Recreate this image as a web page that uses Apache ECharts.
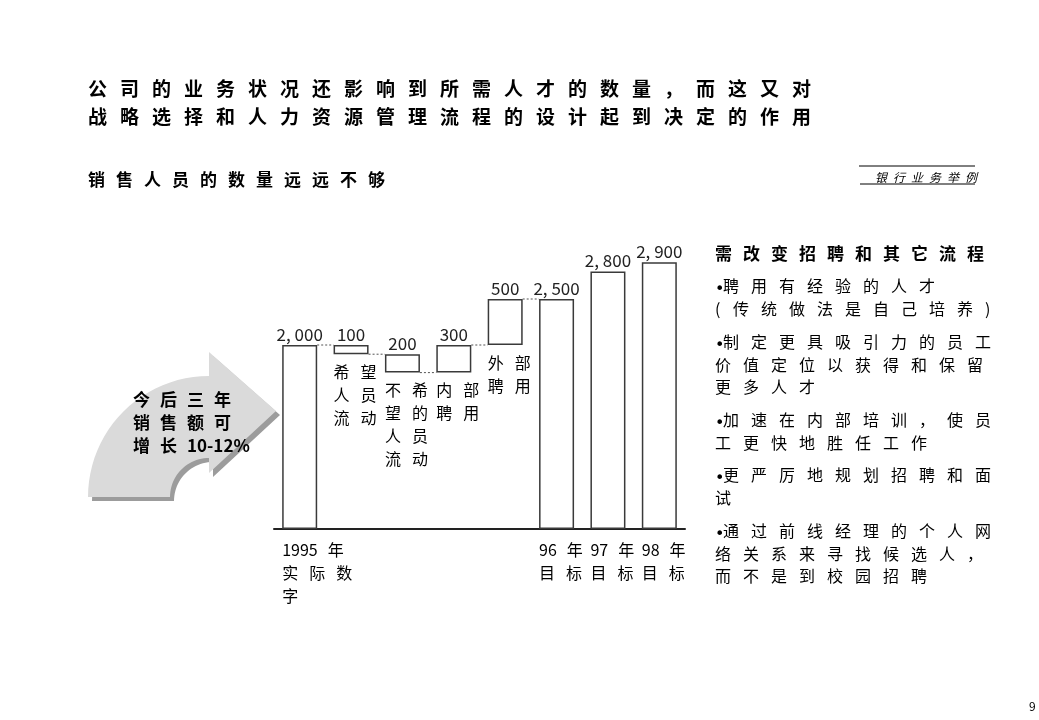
<!DOCTYPE html>
<html>
<head>
<meta charset="utf-8">
<title>销售人员的数量远远不够</title>
<script src="https://cdn.jsdelivr.net/npm/echarts@6/dist/echarts.min.js"></script>
<style>
  html, body { margin: 0; padding: 0; background: #fff; }
  #chart { width: 1039px; height: 720px; }
</style>
</head>
<body>
<div id="chart"></div>
<script>
// --- data ---
var categories = ['1995年实际数字', '希望人员流动', '不希望的人员流动', '内部聘用', '外部聘用', '96年目标', '97年目标', '98年目标'];
var categoryLabels = ['1995年\n实际数\n字', '希望\n人员\n流动', '不希\n望的\n人员\n流动', '内部\n聘用', '外部\n聘用', '96年\n目标', '97年\n目标', '98年\n目标'];
var values = [2000, 100, 200, 300, 500, 2500, 2800, 2900];
var bases = [0, 1900, 1700, 1700, 2000, 0, 0, 0];
var connectorLevels = [2000, 1900, 1700, 2000, 2500];   // dotted line from bar i to bar i+1

var headline = '公司的业务状况还影响到所需人才的数量，而这又对\n战略选择和人力资源管理流程的设计起到决定的作用';
var subhead = '销售人员的数量远远不够';
var tag = '银行业务举例';
var arrowText = '今后三年\n销售额可\n增长10-12%';
var panelHeading = '需改变招聘和其它流程';
var panelPoints = [
    '•聘用有经验的人才\n(传统做法是自己培养)',
    '•制定更具吸引力的员工\n价值定位以获得和保留\n更多人才',
    '•加速在内部培训，使员\n工更快地胜任工作',
    '•更严厉地规划招聘和面\n试',
    '•通过前线经理的个人网\n络关系来寻找候选人，\n而不是到校园招聘'
];
var pageNumber = '9';

// --- layout ---
var FONT = '"Noto Sans CJK SC", "Noto Sans", sans-serif';
var BAR_W = 35;
var pointTops = [275, 331, 409, 464, 520];

// wide character spacing like the original slide: one rich token per glyph
function spread(text) {
    return text.split('\n').map(function (line) {
        return (line.match(/[0-9A-Za-z%\-]+|./g) || []).map(function (t) {
            if (t === '•') return '{b|•}';
            if (t === '(') return '{p|(}';
            if (/^[0-9A-Za-z%\-]+$/.test(t)) return '{n|' + t + '}';
            return '{c|' + t + '}';
        }).join('');
    }).join('\n');
}

function richSet(size, step, weight, lh, style) {
    var base = { fontSize: size, fontWeight: weight, fontFamily: FONT, color: '#000', lineHeight: lh, fontStyle: style || 'normal' };
    return {
        c: Object.assign({}, base, { width: step }),
        n: Object.assign({}, base, { padding: [0, 10, 0, 0] }),
        b: Object.assign({}, base, {
            width: 8, fontFamily: '"DejaVu Sans", sans-serif', fontSize: 16,
            lineHeight: 12, verticalAlign: 'bottom'
        }),
        p: Object.assign({}, base, { width: 18 })
    };
}

function fmt(v) {
    return v >= 1000 ? Math.floor(v / 1000) + ', ' + String(v % 1000).padStart(3, '0') : String(v);
}

// quarter-ring arrow on the left, as a polygon
function arrowPoints(cx, cy, rOut, rIn) {
    var pts = [], k, a;
    for (k = 0; k <= 24; k++) {
        a = Math.PI + (Math.PI / 2) * k / 24;
        pts.push([cx + rOut * Math.cos(a), cy + rOut * Math.sin(a)]);
    }
    pts.push([cx, 352], [276, 411], [cx, 473]);
    for (k = 0; k <= 24; k++) {
        a = Math.PI * 1.5 - (Math.PI / 2) * k / 24;
        pts.push([cx + rIn * Math.cos(a), cy + rIn * Math.sin(a)]);
    }
    return pts;
}
var arrowPts = arrowPoints(209, 497, 121, 39);

var nameRich = richSet(16, 27, 'normal', 23);

var titles = [
    { left: 88, top: 75, text: spread(headline), textStyle: { rich: richSet(19, 32, 'bold', 28) } },
    { left: 88, top: 166, text: spread(subhead), textStyle: { rich: richSet(17, 28, 'bold', 28) } },
    { left: 875, top: 168, text: spread(tag), textStyle: { rich: richSet(12, 18, 'normal', 18, 'italic') } },
    { left: 133, top: 388, text: spread(arrowText), textStyle: { rich: richSet(17, 27, 'bold', 23) } },
    { left: 715, top: 242, text: spread(panelHeading), textStyle: { rich: richSet(17, 28, 'bold', 23) } },
    { left: 1029, top: 700, text: pageNumber, textStyle: { fontSize: 12, fontWeight: 'normal', fontFamily: FONT, color: '#000' } }
];
panelPoints.forEach(function (p, i) {
    titles.push({ left: 715, top: pointTops[i], text: spread(p), textStyle: { rich: richSet(16, 28, 'normal', 22.5) } });
});
titles.forEach(function (t) { t.padding = 0; });

var chart = echarts.init(document.getElementById('chart'));
chart.setOption({
    animation: false,
    backgroundColor: '#fff',
    title: titles,
    graphic: [
        { type: 'polygon', x: 4, y: 4, z: 1, shape: { points: arrowPts }, style: { fill: '#9c9c9c' } },
        { type: 'polygon', z: 2, shape: { points: arrowPts }, style: { fill: '#dadada' } },
        { type: 'line', z: 2, shape: { x1: 859, y1: 166, x2: 975, y2: 166 }, style: { stroke: '#000', lineWidth: 1 } },
        { type: 'line', z: 2, shape: { x1: 860, y1: 184, x2: 975, y2: 184 }, style: { stroke: '#000', lineWidth: 1 } }
    ],
    grid: { left: 274, right: 354, top: 253, bottom: 191 },
    xAxis: {
        type: 'category',
        data: categories,
        axisTick: { show: false },
        axisLabel: { show: false },
        axisLine: { lineStyle: { color: '#222', width: 2 } }
    },
    yAxis: { type: 'value', min: 0, max: 3000, show: false },
    series: [
        {
            name: 'base',
            type: 'bar',
            stack: 'w',
            barWidth: BAR_W,
            silent: true,
            itemStyle: { color: 'transparent' },
            data: bases
        },
        {
            name: 'value',
            type: 'bar',
            stack: 'w',
            barWidth: BAR_W,
            itemStyle: { color: '#fff', borderColor: '#3a3a3a', borderWidth: 1.5 },
            label: {
                show: true,
                position: 'top',
                distance: 2,
                fontSize: 17,
                fontFamily: FONT,
                color: '#222',
                formatter: function (p) { return fmt(p.value); }
            },
            data: values
        },
        {
            name: 'connectors',
            type: 'custom',
            silent: true,
            data: connectorLevels.map(function (v, i) { return [i, v]; }),
            renderItem: function (params, api) {
                var a = api.coord([api.value(0), api.value(1)]);
                var b = api.coord([api.value(0) + 1, api.value(1)]);
                return {
                    type: 'line',
                    shape: { x1: a[0] + BAR_W / 2, y1: a[1], x2: b[0] - BAR_W / 2, y2: b[1] },
                    style: { stroke: '#555', lineWidth: 1, lineDash: [2, 2] }
                };
            }
        },
        {
            name: 'names',
            type: 'custom',
            silent: true,
            data: bases.map(function (v, i) { return [i, v]; }),
            renderItem: function (params, api) {
                var i = params.dataIndex;
                var p = api.coord([api.value(0), api.value(1)]);
                return {
                    type: 'text',
                    x: p[0] - BAR_W / 2,
                    y: p[1] + (bases[i] === 0 ? 9 : 6),
                    style: { text: spread(categoryLabels[i]), rich: nameRich, align: 'left', verticalAlign: 'top' }
                };
            }
        }
    ]
});
</script>
</body>
</html>
